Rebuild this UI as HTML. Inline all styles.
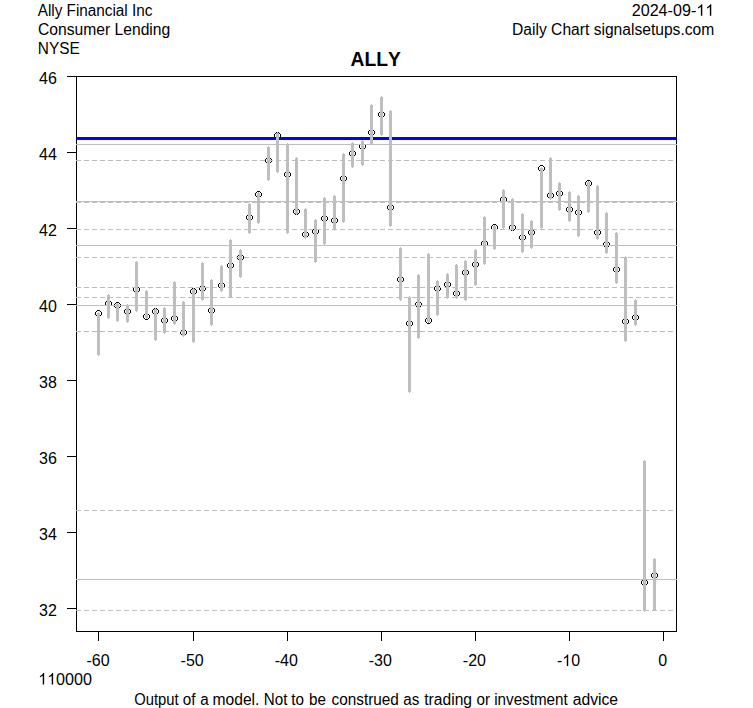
<!DOCTYPE html>
<html><head><meta charset="utf-8"><title>ALLY</title>
<style>
html,body{margin:0;padding:0;background:#fff;}
body{width:753px;height:708px;overflow:hidden;}
svg{display:block;}
text{font-family:"Liberation Sans",sans-serif;font-size:16px;fill:#000;font-kerning:none;}
.t{font-weight:bold;font-size:20px;}
</style></head><body>
<svg width="753" height="708" viewBox="0 0 753 708">
<rect width="753" height="708" fill="#fff"/>

<path shape-rendering="crispEdges" fill="#000" d="M97 310h3v1h-3zM96 311h1v1h-1zM100 311h1v1h-1zM95 312h1v3h-1zM101 312h1v3h-1zM96 315h1v1h-1zM100 315h1v1h-1zM97 316h3v1h-3zM107 300h3v1h-3zM106 301h1v1h-1zM110 301h1v1h-1zM105 302h1v3h-1zM111 302h1v3h-1zM106 305h1v1h-1zM110 305h1v1h-1zM107 306h3v1h-3zM116 302h3v1h-3zM115 303h1v1h-1zM119 303h1v1h-1zM114 304h1v3h-1zM120 304h1v3h-1zM115 307h1v1h-1zM119 307h1v1h-1zM116 308h3v1h-3zM126 308h3v1h-3zM125 309h1v1h-1zM129 309h1v1h-1zM124 310h1v3h-1zM130 310h1v3h-1zM125 313h1v1h-1zM129 313h1v1h-1zM126 314h3v1h-3zM135 286h3v1h-3zM134 287h1v1h-1zM138 287h1v1h-1zM133 288h1v3h-1zM139 288h1v3h-1zM134 291h1v1h-1zM138 291h1v1h-1zM135 292h3v1h-3zM145 313h3v1h-3zM144 314h1v1h-1zM148 314h1v1h-1zM143 315h1v3h-1zM149 315h1v3h-1zM144 318h1v1h-1zM148 318h1v1h-1zM145 319h3v1h-3zM154 308h3v1h-3zM153 309h1v1h-1zM157 309h1v1h-1zM152 310h1v3h-1zM158 310h1v3h-1zM153 313h1v1h-1zM157 313h1v1h-1zM154 314h3v1h-3zM163 317h3v1h-3zM162 318h1v1h-1zM166 318h1v1h-1zM161 319h1v3h-1zM167 319h1v3h-1zM162 322h1v1h-1zM166 322h1v1h-1zM163 323h3v1h-3zM173 315h3v1h-3zM172 316h1v1h-1zM176 316h1v1h-1zM171 317h1v3h-1zM177 317h1v3h-1zM172 320h1v1h-1zM176 320h1v1h-1zM173 321h3v1h-3zM182 329h3v1h-3zM181 330h1v1h-1zM185 330h1v1h-1zM180 331h1v3h-1zM186 331h1v3h-1zM181 334h1v1h-1zM185 334h1v1h-1zM182 335h3v1h-3zM192 288h3v1h-3zM191 289h1v1h-1zM195 289h1v1h-1zM190 290h1v3h-1zM196 290h1v3h-1zM191 293h1v1h-1zM195 293h1v1h-1zM192 294h3v1h-3zM201 285h3v1h-3zM200 286h1v1h-1zM204 286h1v1h-1zM199 287h1v3h-1zM205 287h1v3h-1zM200 290h1v1h-1zM204 290h1v1h-1zM201 291h3v1h-3zM210 307h3v1h-3zM209 308h1v1h-1zM213 308h1v1h-1zM208 309h1v3h-1zM214 309h1v3h-1zM209 312h1v1h-1zM213 312h1v1h-1zM210 313h3v1h-3zM220 282h3v1h-3zM219 283h1v1h-1zM223 283h1v1h-1zM218 284h1v3h-1zM224 284h1v3h-1zM219 287h1v1h-1zM223 287h1v1h-1zM220 288h3v1h-3zM229 262h3v1h-3zM228 263h1v1h-1zM232 263h1v1h-1zM227 264h1v3h-1zM233 264h1v3h-1zM228 267h1v1h-1zM232 267h1v1h-1zM229 268h3v1h-3zM239 254h3v1h-3zM238 255h1v1h-1zM242 255h1v1h-1zM237 256h1v3h-1zM243 256h1v3h-1zM238 259h1v1h-1zM242 259h1v1h-1zM239 260h3v1h-3zM248 214h3v1h-3zM247 215h1v1h-1zM251 215h1v1h-1zM246 216h1v3h-1zM252 216h1v3h-1zM247 219h1v1h-1zM251 219h1v1h-1zM248 220h3v1h-3zM257 191h3v1h-3zM256 192h1v1h-1zM260 192h1v1h-1zM255 193h1v3h-1zM261 193h1v3h-1zM256 196h1v1h-1zM260 196h1v1h-1zM257 197h3v1h-3zM267 157h3v1h-3zM266 158h1v1h-1zM270 158h1v1h-1zM265 159h1v3h-1zM271 159h1v3h-1zM266 162h1v1h-1zM270 162h1v1h-1zM267 163h3v1h-3zM276 132h3v1h-3zM275 133h1v1h-1zM279 133h1v1h-1zM274 134h1v3h-1zM280 134h1v3h-1zM275 137h1v1h-1zM279 137h1v1h-1zM276 138h3v1h-3zM286 171h3v1h-3zM285 172h1v1h-1zM289 172h1v1h-1zM284 173h1v3h-1zM290 173h1v3h-1zM285 176h1v1h-1zM289 176h1v1h-1zM286 177h3v1h-3zM295 208h3v1h-3zM294 209h1v1h-1zM298 209h1v1h-1zM293 210h1v3h-1zM299 210h1v3h-1zM294 213h1v1h-1zM298 213h1v1h-1zM295 214h3v1h-3zM304 231h3v1h-3zM303 232h1v1h-1zM307 232h1v1h-1zM302 233h1v3h-1zM308 233h1v3h-1zM303 236h1v1h-1zM307 236h1v1h-1zM304 237h3v1h-3zM314 228h3v1h-3zM313 229h1v1h-1zM317 229h1v1h-1zM312 230h1v3h-1zM318 230h1v3h-1zM313 233h1v1h-1zM317 233h1v1h-1zM314 234h3v1h-3zM323 215h3v1h-3zM322 216h1v1h-1zM326 216h1v1h-1zM321 217h1v3h-1zM327 217h1v3h-1zM322 220h1v1h-1zM326 220h1v1h-1zM323 221h3v1h-3zM333 217h3v1h-3zM332 218h1v1h-1zM336 218h1v1h-1zM331 219h1v3h-1zM337 219h1v3h-1zM332 222h1v1h-1zM336 222h1v1h-1zM333 223h3v1h-3zM342 175h3v1h-3zM341 176h1v1h-1zM345 176h1v1h-1zM340 177h1v3h-1zM346 177h1v3h-1zM341 180h1v1h-1zM345 180h1v1h-1zM342 181h3v1h-3zM351 150h3v1h-3zM350 151h1v1h-1zM354 151h1v1h-1zM349 152h1v3h-1zM355 152h1v3h-1zM350 155h1v1h-1zM354 155h1v1h-1zM351 156h3v1h-3zM361 143h3v1h-3zM360 144h1v1h-1zM364 144h1v1h-1zM359 145h1v3h-1zM365 145h1v3h-1zM360 148h1v1h-1zM364 148h1v1h-1zM361 149h3v1h-3zM370 129h3v1h-3zM369 130h1v1h-1zM373 130h1v1h-1zM368 131h1v3h-1zM374 131h1v3h-1zM369 134h1v1h-1zM373 134h1v1h-1zM370 135h3v1h-3zM380 111h3v1h-3zM379 112h1v1h-1zM383 112h1v1h-1zM378 113h1v3h-1zM384 113h1v3h-1zM379 116h1v1h-1zM383 116h1v1h-1zM380 117h3v1h-3zM389 204h3v1h-3zM388 205h1v1h-1zM392 205h1v1h-1zM387 206h1v3h-1zM393 206h1v3h-1zM388 209h1v1h-1zM392 209h1v1h-1zM389 210h3v1h-3zM399 276h3v1h-3zM398 277h1v1h-1zM402 277h1v1h-1zM397 278h1v3h-1zM403 278h1v3h-1zM398 281h1v1h-1zM402 281h1v1h-1zM399 282h3v1h-3zM408 320h3v1h-3zM407 321h1v1h-1zM411 321h1v1h-1zM406 322h1v3h-1zM412 322h1v3h-1zM407 325h1v1h-1zM411 325h1v1h-1zM408 326h3v1h-3zM417 301h3v1h-3zM416 302h1v1h-1zM420 302h1v1h-1zM415 303h1v3h-1zM421 303h1v3h-1zM416 306h1v1h-1zM420 306h1v1h-1zM417 307h3v1h-3zM427 317h3v1h-3zM426 318h1v1h-1zM430 318h1v1h-1zM425 319h1v3h-1zM431 319h1v3h-1zM426 322h1v1h-1zM430 322h1v1h-1zM427 323h3v1h-3zM436 285h3v1h-3zM435 286h1v1h-1zM439 286h1v1h-1zM434 287h1v3h-1zM440 287h1v3h-1zM435 290h1v1h-1zM439 290h1v1h-1zM436 291h3v1h-3zM446 281h3v1h-3zM445 282h1v1h-1zM449 282h1v1h-1zM444 283h1v3h-1zM450 283h1v3h-1zM445 286h1v1h-1zM449 286h1v1h-1zM446 287h3v1h-3zM455 290h3v1h-3zM454 291h1v1h-1zM458 291h1v1h-1zM453 292h1v3h-1zM459 292h1v3h-1zM454 295h1v1h-1zM458 295h1v1h-1zM455 296h3v1h-3zM464 269h3v1h-3zM463 270h1v1h-1zM467 270h1v1h-1zM462 271h1v3h-1zM468 271h1v3h-1zM463 274h1v1h-1zM467 274h1v1h-1zM464 275h3v1h-3zM474 261h3v1h-3zM473 262h1v1h-1zM477 262h1v1h-1zM472 263h1v3h-1zM478 263h1v3h-1zM473 266h1v1h-1zM477 266h1v1h-1zM474 267h3v1h-3zM483 240h3v1h-3zM482 241h1v1h-1zM486 241h1v1h-1zM481 242h1v3h-1zM487 242h1v3h-1zM482 245h1v1h-1zM486 245h1v1h-1zM483 246h3v1h-3zM493 224h3v1h-3zM492 225h1v1h-1zM496 225h1v1h-1zM491 226h1v3h-1zM497 226h1v3h-1zM492 229h1v1h-1zM496 229h1v1h-1zM493 230h3v1h-3zM502 196h3v1h-3zM501 197h1v1h-1zM505 197h1v1h-1zM500 198h1v3h-1zM506 198h1v3h-1zM501 201h1v1h-1zM505 201h1v1h-1zM502 202h3v1h-3zM511 224h3v1h-3zM510 225h1v1h-1zM514 225h1v1h-1zM509 226h1v3h-1zM515 226h1v3h-1zM510 229h1v1h-1zM514 229h1v1h-1zM511 230h3v1h-3zM521 234h3v1h-3zM520 235h1v1h-1zM524 235h1v1h-1zM519 236h1v3h-1zM525 236h1v3h-1zM520 239h1v1h-1zM524 239h1v1h-1zM521 240h3v1h-3zM530 229h3v1h-3zM529 230h1v1h-1zM533 230h1v1h-1zM528 231h1v3h-1zM534 231h1v3h-1zM529 234h1v1h-1zM533 234h1v1h-1zM530 235h3v1h-3zM540 165h3v1h-3zM539 166h1v1h-1zM543 166h1v1h-1zM538 167h1v3h-1zM544 167h1v3h-1zM539 170h1v1h-1zM543 170h1v1h-1zM540 171h3v1h-3zM549 192h3v1h-3zM548 193h1v1h-1zM552 193h1v1h-1zM547 194h1v3h-1zM553 194h1v3h-1zM548 197h1v1h-1zM552 197h1v1h-1zM549 198h3v1h-3zM558 190h3v1h-3zM557 191h1v1h-1zM561 191h1v1h-1zM556 192h1v3h-1zM562 192h1v3h-1zM557 195h1v1h-1zM561 195h1v1h-1zM558 196h3v1h-3zM568 206h3v1h-3zM567 207h1v1h-1zM571 207h1v1h-1zM566 208h1v3h-1zM572 208h1v3h-1zM567 211h1v1h-1zM571 211h1v1h-1zM568 212h3v1h-3zM577 209h3v1h-3zM576 210h1v1h-1zM580 210h1v1h-1zM575 211h1v3h-1zM581 211h1v3h-1zM576 214h1v1h-1zM580 214h1v1h-1zM577 215h3v1h-3zM587 180h3v1h-3zM586 181h1v1h-1zM590 181h1v1h-1zM585 182h1v3h-1zM591 182h1v3h-1zM586 185h1v1h-1zM590 185h1v1h-1zM587 186h3v1h-3zM596 229h3v1h-3zM595 230h1v1h-1zM599 230h1v1h-1zM594 231h1v3h-1zM600 231h1v3h-1zM595 234h1v1h-1zM599 234h1v1h-1zM596 235h3v1h-3zM605 241h3v1h-3zM604 242h1v1h-1zM608 242h1v1h-1zM603 243h1v3h-1zM609 243h1v3h-1zM604 246h1v1h-1zM608 246h1v1h-1zM605 247h3v1h-3zM615 266h3v1h-3zM614 267h1v1h-1zM618 267h1v1h-1zM613 268h1v3h-1zM619 268h1v3h-1zM614 271h1v1h-1zM618 271h1v1h-1zM615 272h3v1h-3zM624 318h3v1h-3zM623 319h1v1h-1zM627 319h1v1h-1zM622 320h1v3h-1zM628 320h1v3h-1zM623 323h1v1h-1zM627 323h1v1h-1zM624 324h3v1h-3zM634 314h3v1h-3zM633 315h1v1h-1zM637 315h1v1h-1zM632 316h1v3h-1zM638 316h1v3h-1zM633 319h1v1h-1zM637 319h1v1h-1zM634 320h3v1h-3zM643 579h3v1h-3zM642 580h1v1h-1zM646 580h1v1h-1zM641 581h1v3h-1zM647 581h1v3h-1zM642 584h1v1h-1zM646 584h1v1h-1zM643 585h3v1h-3zM653 572h3v1h-3zM652 573h1v1h-1zM656 573h1v1h-1zM651 574h1v3h-1zM657 574h1v3h-1zM652 577h1v1h-1zM656 577h1v1h-1zM653 578h3v1h-3z"/>
<g shape-rendering="crispEdges" stroke="#000" stroke-width="1" fill="none">
<rect x="76.5" y="76.5" width="600" height="555"/>
<line x1="67" y1="76.5" x2="76" y2="76.5"/>
<line x1="67" y1="152.5" x2="76" y2="152.5"/>
<line x1="67" y1="228.5" x2="76" y2="228.5"/>
<line x1="67" y1="304.5" x2="76" y2="304.5"/>
<line x1="67" y1="380.5" x2="76" y2="380.5"/>
<line x1="67" y1="456.5" x2="76" y2="456.5"/>
<line x1="67" y1="532.5" x2="76" y2="532.5"/>
<line x1="67" y1="608.5" x2="76" y2="608.5"/>
<line x1="98.5" y1="632" x2="98.5" y2="641"/>
<line x1="193.5" y1="632" x2="193.5" y2="641"/>
<line x1="287.5" y1="632" x2="287.5" y2="641"/>
<line x1="381.5" y1="632" x2="381.5" y2="641"/>
<line x1="475.5" y1="632" x2="475.5" y2="641"/>
<line x1="569.5" y1="632" x2="569.5" y2="641"/>
<line x1="663.5" y1="632" x2="663.5" y2="641"/>
</g>
<g shape-rendering="crispEdges" stroke="#bebebe" stroke-width="1" fill="none">
<line x1="76" y1="144.5" x2="677" y2="144.5"/>
<line x1="76" y1="201.5" x2="677" y2="201.5"/>
<line x1="76" y1="245.5" x2="677" y2="245.5"/>
<line x1="76" y1="305.5" x2="677" y2="305.5"/>
<line x1="76" y1="579.5" x2="677" y2="579.5"/>
<line x1="76" y1="160.5" x2="676" y2="160.5" stroke-dasharray="5 3"/>
<line x1="76" y1="202.5" x2="676" y2="202.5" stroke-dasharray="5 3"/>
<line x1="76" y1="229.5" x2="676" y2="229.5" stroke-dasharray="5 3"/>
<line x1="76" y1="257.5" x2="676" y2="257.5" stroke-dasharray="5 3"/>
<line x1="76" y1="287.5" x2="676" y2="287.5" stroke-dasharray="5 3"/>
<line x1="76" y1="297.5" x2="676" y2="297.5" stroke-dasharray="5 3"/>
<line x1="76" y1="331.5" x2="676" y2="331.5" stroke-dasharray="5 3"/>
<line x1="76" y1="510.5" x2="676" y2="510.5" stroke-dasharray="5 3"/>
<line x1="76" y1="610.5" x2="676" y2="610.5" stroke-dasharray="5 3"/>
</g>
<rect x="76" y="137" width="601" height="3" fill="#0000ff" shape-rendering="crispEdges"/>
<g shape-rendering="crispEdges" fill="#bebebe">
<rect x="97.0" y="313" width="3" height="42"/><rect x="98.0" y="312" width="1" height="44"/>
<rect x="107.0" y="295" width="3" height="23"/><rect x="108.0" y="294" width="1" height="25"/>
<rect x="116.0" y="304" width="3" height="17"/><rect x="117.0" y="303" width="1" height="19"/>
<rect x="126.0" y="305" width="3" height="17"/><rect x="127.0" y="304" width="1" height="19"/>
<rect x="135.0" y="262" width="3" height="49"/><rect x="136.0" y="261" width="1" height="51"/>
<rect x="145.0" y="291" width="3" height="27"/><rect x="146.0" y="290" width="1" height="29"/>
<rect x="154.0" y="309" width="3" height="31"/><rect x="155.0" y="308" width="1" height="33"/>
<rect x="163.0" y="308" width="3" height="25"/><rect x="164.0" y="307" width="1" height="27"/>
<rect x="173.0" y="282" width="3" height="42"/><rect x="174.0" y="281" width="1" height="44"/>
<rect x="182.0" y="302" width="3" height="34"/><rect x="183.0" y="301" width="1" height="36"/>
<rect x="192.0" y="289" width="3" height="53"/><rect x="193.0" y="288" width="1" height="55"/>
<rect x="201.0" y="263" width="3" height="37"/><rect x="202.0" y="262" width="1" height="39"/>
<rect x="210.0" y="280" width="3" height="45"/><rect x="211.0" y="279" width="1" height="47"/>
<rect x="220.0" y="266" width="3" height="25"/><rect x="221.0" y="265" width="1" height="27"/>
<rect x="229.0" y="240" width="3" height="57"/><rect x="230.0" y="239" width="1" height="59"/>
<rect x="239.0" y="250" width="3" height="27"/><rect x="240.0" y="249" width="1" height="29"/>
<rect x="248.0" y="204" width="3" height="29"/><rect x="249.0" y="203" width="1" height="31"/>
<rect x="257.0" y="193" width="3" height="30"/><rect x="258.0" y="192" width="1" height="32"/>
<rect x="267.0" y="147" width="3" height="33"/><rect x="268.0" y="146" width="1" height="35"/>
<rect x="276.0" y="133" width="3" height="39"/><rect x="277.0" y="132" width="1" height="41"/>
<rect x="286.0" y="144" width="3" height="89"/><rect x="287.0" y="143" width="1" height="91"/>
<rect x="295.0" y="158" width="3" height="56"/><rect x="296.0" y="157" width="1" height="58"/>
<rect x="304.0" y="209" width="3" height="29"/><rect x="305.0" y="208" width="1" height="31"/>
<rect x="314.0" y="220" width="3" height="42"/><rect x="315.0" y="219" width="1" height="44"/>
<rect x="323.0" y="198" width="3" height="46"/><rect x="324.0" y="197" width="1" height="48"/>
<rect x="333.0" y="196" width="3" height="34"/><rect x="334.0" y="195" width="1" height="36"/>
<rect x="342.0" y="154" width="3" height="68"/><rect x="343.0" y="153" width="1" height="70"/>
<rect x="351.0" y="143" width="3" height="24"/><rect x="352.0" y="142" width="1" height="26"/>
<rect x="361.0" y="141" width="3" height="24"/><rect x="362.0" y="140" width="1" height="26"/>
<rect x="370.0" y="105" width="3" height="39"/><rect x="371.0" y="104" width="1" height="41"/>
<rect x="380.0" y="97" width="3" height="38"/><rect x="381.0" y="96" width="1" height="40"/>
<rect x="389.0" y="111" width="3" height="115"/><rect x="390.0" y="110" width="1" height="117"/>
<rect x="399.0" y="248" width="3" height="52"/><rect x="400.0" y="247" width="1" height="54"/>
<rect x="408.0" y="297" width="3" height="95"/><rect x="409.0" y="296" width="1" height="97"/>
<rect x="417.0" y="275" width="3" height="63"/><rect x="418.0" y="274" width="1" height="65"/>
<rect x="427.0" y="254" width="3" height="68"/><rect x="428.0" y="253" width="1" height="70"/>
<rect x="436.0" y="281" width="3" height="34"/><rect x="437.0" y="280" width="1" height="36"/>
<rect x="446.0" y="274" width="3" height="24"/><rect x="447.0" y="273" width="1" height="26"/>
<rect x="455.0" y="265" width="3" height="33"/><rect x="456.0" y="264" width="1" height="35"/>
<rect x="464.0" y="261" width="3" height="39"/><rect x="465.0" y="260" width="1" height="41"/>
<rect x="474.0" y="250" width="3" height="35"/><rect x="475.0" y="249" width="1" height="37"/>
<rect x="483.0" y="217" width="3" height="47"/><rect x="484.0" y="216" width="1" height="49"/>
<rect x="493.0" y="226" width="3" height="23"/><rect x="494.0" y="225" width="1" height="25"/>
<rect x="502.0" y="190" width="3" height="38"/><rect x="503.0" y="189" width="1" height="40"/>
<rect x="511.0" y="199" width="3" height="31"/><rect x="512.0" y="198" width="1" height="33"/>
<rect x="521.0" y="214" width="3" height="38"/><rect x="522.0" y="213" width="1" height="40"/>
<rect x="530.0" y="221" width="3" height="27"/><rect x="531.0" y="220" width="1" height="29"/>
<rect x="540.0" y="168" width="3" height="60"/><rect x="541.0" y="167" width="1" height="62"/>
<rect x="549.0" y="158" width="3" height="41"/><rect x="550.0" y="157" width="1" height="43"/>
<rect x="558.0" y="183" width="3" height="27"/><rect x="559.0" y="182" width="1" height="29"/>
<rect x="568.0" y="192" width="3" height="29"/><rect x="569.0" y="191" width="1" height="31"/>
<rect x="577.0" y="196" width="3" height="40"/><rect x="578.0" y="195" width="1" height="42"/>
<rect x="587.0" y="182" width="3" height="30"/><rect x="588.0" y="181" width="1" height="32"/>
<rect x="596.0" y="186" width="3" height="53"/><rect x="597.0" y="185" width="1" height="55"/>
<rect x="605.0" y="213" width="3" height="40"/><rect x="606.0" y="212" width="1" height="42"/>
<rect x="615.0" y="233" width="3" height="50"/><rect x="616.0" y="232" width="1" height="52"/>
<rect x="624.0" y="257" width="3" height="84"/><rect x="625.0" y="256" width="1" height="86"/>
<rect x="634.0" y="300" width="3" height="25"/><rect x="635.0" y="299" width="1" height="27"/>
<rect x="643.0" y="461" width="3" height="150"/><rect x="644.0" y="460" width="1" height="152"/>
<rect x="653.0" y="559" width="3" height="51"/><rect x="654.0" y="558" width="1" height="53"/>
</g>
<text x="37.70" y="15.8" textLength="114.72" lengthAdjust="spacingAndGlyphs">Ally Financial Inc</text>
<text x="38.00" y="35" textLength="132.26" lengthAdjust="spacingAndGlyphs">Consumer Lending</text>
<text x="37.80" y="54.2" textLength="42.00" lengthAdjust="spacingAndGlyphs">NYSE</text>
<text x="631.70" y="15.8" textLength="64.58" lengthAdjust="spacingAndGlyphs">2024-09-</text>
<path transform="translate(696.28,15.8) scale(0.007876,-0.007812)" d="M763 0H583V1147Q518 1085 412.5 1023T223 930V1104Q374 1175 487 1276T647 1472H763Z" fill="#000"/>
<path transform="translate(705.25,15.8) scale(0.007876,-0.007812)" d="M763 0H583V1147Q518 1085 412.5 1023T223 930V1104Q374 1175 487 1276T647 1472H763Z" fill="#000"/>
<text x="512.10" y="35" textLength="202.14" lengthAdjust="spacingAndGlyphs">Daily Chart signalsetups.com</text>
<text class="t" x="350.50" y="65.6" textLength="50.21" lengthAdjust="spacingAndGlyphs">ALLY</text>
<text x="56.9" y="83.7" text-anchor="end">46</text>
<text x="56.9" y="159.7" text-anchor="end">44</text>
<text x="56.9" y="235.7" text-anchor="end">42</text>
<text x="56.9" y="311.7" text-anchor="end">40</text>
<text x="56.9" y="387.7" text-anchor="end">38</text>
<text x="56.9" y="463.7" text-anchor="end">36</text>
<text x="56.9" y="539.7" text-anchor="end">34</text>
<text x="56.9" y="615.7" text-anchor="end">32</text>
<text x="98.1" y="666" text-anchor="middle">-60</text>
<text x="192.18" y="666" text-anchor="middle">-50</text>
<text x="286.26" y="666" text-anchor="middle">-40</text>
<text x="380.34000000000003" y="666" text-anchor="middle">-30</text>
<text x="474.41999999999996" y="666" text-anchor="middle">-20</text>
<text x="556.93" y="666">-</text>
<path transform="translate(562.26,666) scale(0.007812,-0.007812)" d="M763 0H583V1147Q518 1085 412.5 1023T223 930V1104Q374 1175 487 1276T647 1472H763Z" fill="#000"/>
<text x="571.16" y="666">0</text>
<text x="662.58" y="666" text-anchor="middle">0</text>
<path transform="translate(38.15,684.6) scale(0.007872,-0.007812)" d="M763 0H583V1147Q518 1085 412.5 1023T223 930V1104Q374 1175 487 1276T647 1472H763Z" fill="#000"/>
<path transform="translate(47.12,684.6) scale(0.007872,-0.007812)" d="M763 0H583V1147Q518 1085 412.5 1023T223 930V1104Q374 1175 487 1276T647 1472H763Z" fill="#000"/>
<text x="56.09" y="684.6" textLength="35.87" lengthAdjust="spacingAndGlyphs">0000</text>
<text x="134.25" y="704.7" textLength="44.35" lengthAdjust="spacingAndGlyphs">Output</text>
<text x="182.75" y="704.7" textLength="12.67" lengthAdjust="spacingAndGlyphs">of</text>
<text x="200.25" y="704.7" textLength="8.46" lengthAdjust="spacingAndGlyphs">a</text>
<text x="212.50" y="704.7" textLength="46.94" lengthAdjust="spacingAndGlyphs">model.</text>
<text x="263.75" y="704.7" textLength="23.65" lengthAdjust="spacingAndGlyphs">Not</text>
<text x="291.25" y="704.7" textLength="12.67" lengthAdjust="spacingAndGlyphs">to</text>
<text x="309.00" y="704.7" textLength="16.91" lengthAdjust="spacingAndGlyphs">be</text>
<text x="331.50" y="704.7" textLength="67.32" lengthAdjust="spacingAndGlyphs">construed</text>
<text x="403.25" y="704.7" textLength="16.05" lengthAdjust="spacingAndGlyphs">as</text>
<text x="424.25" y="704.7" textLength="47.75" lengthAdjust="spacingAndGlyphs">trading</text>
<text x="476.50" y="704.7" textLength="13.52" lengthAdjust="spacingAndGlyphs">or</text>
<text x="494.25" y="704.7" textLength="73.45" lengthAdjust="spacingAndGlyphs">investment</text>
<text x="572.75" y="704.7" textLength="45.33" lengthAdjust="spacingAndGlyphs">advice</text>
</svg></body></html>
